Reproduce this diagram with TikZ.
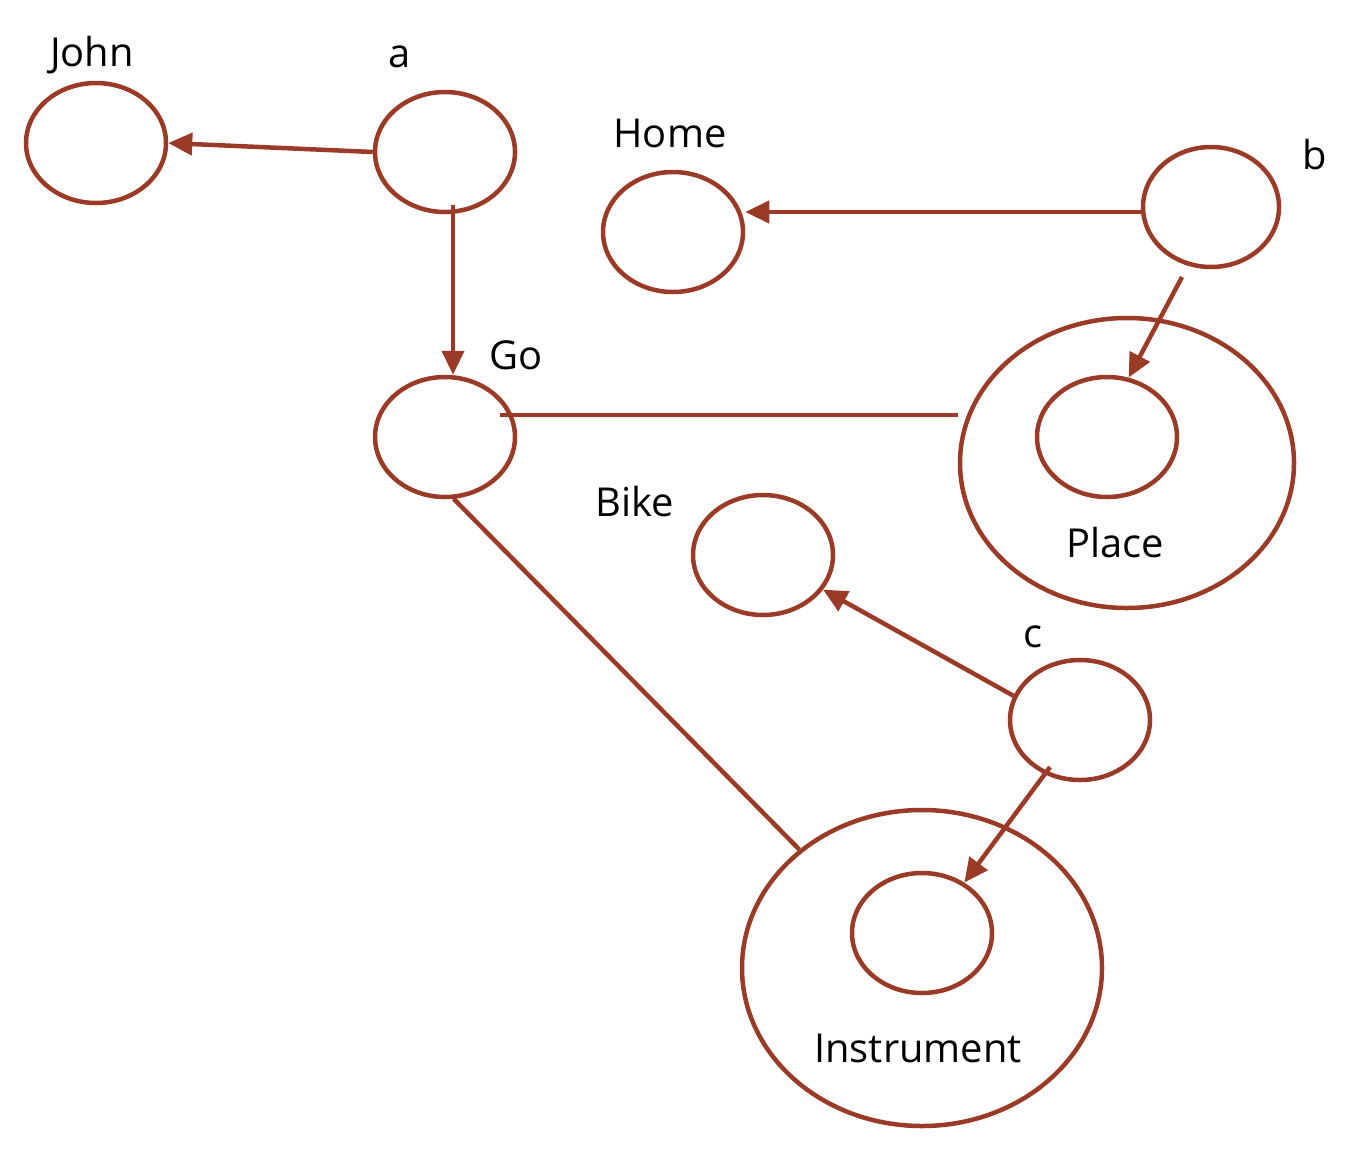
\documentclass[tikz,border=0pt]{standalone}
\usepackage{fontspec}
\setmainfont{Open Sans}
\usetikzlibrary{shapes.geometric,arrows.meta}
\definecolor{br}{HTML}{9A3B27}
\begin{document}
\begin{tikzpicture}[x=1bp,y=-1bp,
  el/.style={draw=br,line width=4.5bp,ellipse,inner sep=0pt,minimum width=140bp,minimum height=120bp},
  lab/.style={font=\fontsize{40}{44}\selectfont,inner sep=0pt},
  arr/.style={draw=br,line width=4.5bp,-{Triangle[length=24bp,width=22bp]}},
  ln/.style={draw=br,line width=4.5bp}]
\useasboundingbox (0,0) rectangle (1358,1157);
\node[el] (john) at (96,143) {};
\node[el] (a) at (445,152) {};
\node[el] (home) at (673,232) {};
\node[el,minimum width=136bp] (b) at (1211,207) {};
\node[el] (go) at (445,437) {};
\node[el,minimum width=334bp,minimum height=290bp] (place) at (1127,463) {};
\node[el] (placein) at (1107,437) {};
\node[el] (bike) at (763,555) {};
\node[el] (c) at (1080,720) {};
\node[el,minimum width=360bp,minimum height=316bp] (instr) at (922,968) {};
\node[el] (instrin) at (922,933) {};
\node[lab] (lJohn) at (92,55) {John};
\node[lab] (la) at (400,57) {a};
\node[lab] (lHome) at (670,133) {Home};
\node[lab] (lb) at (1315,155) {b};
\node[lab] (lGo) at (516,355) {Go};
\node[lab] (lBike) at (635,502) {Bike};
\node[lab] (lPlace) at (1115,543) {Place};
\node[lab] (lc) at (1033,637) {c};
\node[lab] (lInstr) at (918,1048) {Instrument};
\coordinate (a1) at (453,205);
\coordinate (b1) at (1182,277);
\coordinate (g1) at (500,415);
\coordinate (c1) at (1050,767);
\draw[arr] (a.west) -- (john.east);
\draw[arr] (a1) -- (go.north -| a1);
\draw[arr] (b.west |- 0,212) -- (home.east |- 0,212);
\draw[arr] (b1) -- (placein.70);
\draw[ln] (g1) -- (place.west |- g1);
\draw[ln] (go.-82) -- (instr.136);
\draw[arr] (c.160) -- (bike.-30);
\draw[arr] (c1) -- (instrin.50);
\end{tikzpicture}
\end{document}
